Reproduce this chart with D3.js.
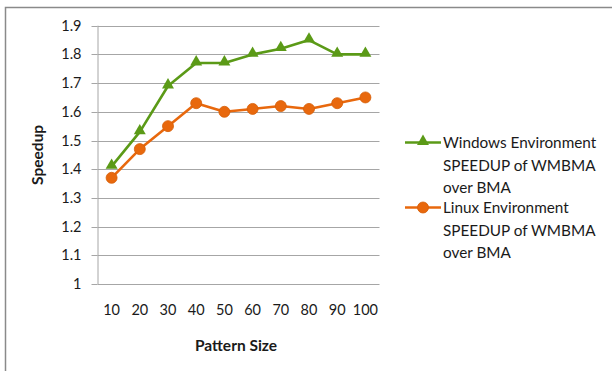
<!DOCTYPE html>
<html>
<head>
<meta charset="utf-8">
<script src="https://cdn.jsdelivr.net/npm/d3@7"></script>
<style>
  html, body { margin: 0; padding: 0; background: #fff; }
  svg { display: block; font-family: Lato, "Open Sans", sans-serif; }
</style>
</head>
<body>
<svg id="chart" width="612" height="371"></svg>
<script>
// Pattern sizes on the x axis
const patternSizes = ["10", "20", "30", "40", "50", "60", "70", "80", "90", "100"];
// Speedup of WMBMA over BMA per environment
const windowsSpeedup = [1.41, 1.53, 1.69, 1.77, 1.77, 1.80, 1.82, 1.85, 1.80, 1.80];
const linuxSpeedup   = [1.37, 1.47, 1.55, 1.63, 1.60, 1.61, 1.62, 1.61, 1.63, 1.65];
const yTicks = [1, 1.1, 1.2, 1.3, 1.4, 1.5, 1.6, 1.7, 1.8, 1.9];
const yTickLabels = ["1", "1.1", "1.2", "1.3", "1.4", "1.5", "1.6", "1.7", "1.8", "1.9"];

const seriesList = [
  { name: ["Windows Environment", "SPEEDUP of WMBMA", "over BMA"], values: windowsSpeedup, color: "#5b9a17", marker: "triangle" },
  { name: ["Linux Environment", "SPEEDUP of WMBMA", "over BMA"], values: linuxSpeedup, color: "#e8680d", marker: "circle" }
];

const svg = d3.select("#chart");
const plot = { left: 97.5, right: 379.5, top: 25.7, bottom: 284 };

// outer chart frame (runs off the right and bottom edges)
svg.append("path")
  .attr("d", "M5.5,371 V7.5 H612")
  .attr("fill", "none").attr("stroke", "#8a8a8a").attr("stroke-width", 1.5);

const x = d3.scaleBand().domain(patternSizes).range([plot.left, plot.right]);
const y = d3.scaleLinear().domain([1, 1.9]).range([plot.bottom, plot.top]);
const cx = d => x(d) + x.bandwidth() / 2;

// horizontal gridlines
svg.append("g").selectAll("line").data(yTicks).join("line")
  .attr("x1", plot.left).attr("x2", plot.right)
  .attr("y1", d => Math.round(y(d)) + 0.5).attr("y2", d => Math.round(y(d)) + 0.5)
  .attr("stroke", "#a6a6a6").attr("stroke-width", 1);

// y axis
const yAxis = svg.append("g")
  .attr("transform", `translate(${plot.left},0)`)
  .call(d3.axisLeft(y).tickValues(yTicks).tickSize(6).tickPadding(10)
    .tickFormat((d, i) => yTickLabels[i]));
yAxis.select(".domain").attr("stroke", "#a6a6a6").attr("d", `M0.5,${plot.top}V${plot.bottom}`);
yAxis.selectAll(".tick line").attr("stroke", "#a6a6a6");
yAxis.selectAll(".tick").attr("transform", d => `translate(0,${Math.round(y(d)) + 0.5})`);
yAxis.selectAll("text").attr("font-size", 14.5).attr("fill", "#1a1a1a")
  .attr("font-family", "Lato, sans-serif");

// x axis labels
const xAxis = svg.append("g")
  .attr("transform", `translate(0,${plot.bottom})`)
  .call(d3.axisBottom(x).tickSize(0).tickPadding(21));
xAxis.select(".domain").remove();
xAxis.selectAll("text").attr("font-size", 14.5).attr("fill", "#1a1a1a")
  .attr("font-family", "Lato, sans-serif");

// axis titles
svg.append("text").attr("x", 236).attr("y", 350.5)
  .attr("text-anchor", "middle").attr("font-weight", "bold").attr("font-size", 15.5)
  .attr("fill", "#1a1a1a").text("Pattern Size");
svg.append("text")
  .attr("transform", `translate(42.5,${(plot.top + plot.bottom) / 2}) rotate(-90)`)
  .attr("text-anchor", "middle").attr("font-weight", "bold").attr("font-size", 15.5)
  .attr("fill", "#1a1a1a").text("Speedup");

const line = d3.line().x((d, i) => cx(patternSizes[i])).y(d => y(d));
const triangle = d3.symbol().type(d3.symbolTriangle).size(62);

function drawMarker(g, type, color) {
  if (type === "triangle") {
    g.append("path").attr("d", triangle()).attr("fill", color).attr("transform", "translate(0,-1)");
  } else {
    g.append("circle").attr("r", 5.5).attr("fill", color).attr("stroke", "#d55e08").attr("stroke-width", 0.8);
  }
}

seriesList.forEach(s => {
  svg.append("path").datum(s.values)
    .attr("d", line).attr("fill", "none")
    .attr("stroke", s.color).attr("stroke-width", 2.6).attr("stroke-linejoin", "round");
  svg.append("g").selectAll("g").data(s.values).join("g")
    .attr("transform", (d, i) => `translate(${cx(patternSizes[i])},${y(d)})`)
    .each(function () { drawMarker(d3.select(this), s.marker, s.color); });
});

// legend
const legend = svg.append("g");
seriesList.forEach((s, k) => {
  const top = 142.5 + k * 65;
  const g = legend.append("g").attr("transform", `translate(0,${top})`);
  g.append("line").attr("x1", 405).attr("x2", 441).attr("y1", 0).attr("y2", 0)
    .attr("stroke", s.color).attr("stroke-width", 2.6);
  const m = g.append("g").attr("transform", "translate(423,0)");
  drawMarker(m, s.marker, s.color);
  g.selectAll("text").data(s.name).join("text")
    .attr("x", 443).attr("y", (d, i) => i * 22.5 + 5.5)
    .attr("font-size", 15.3).attr("fill", "#1a1a1a").text(d => d);
});
</script>
</body>
</html>
